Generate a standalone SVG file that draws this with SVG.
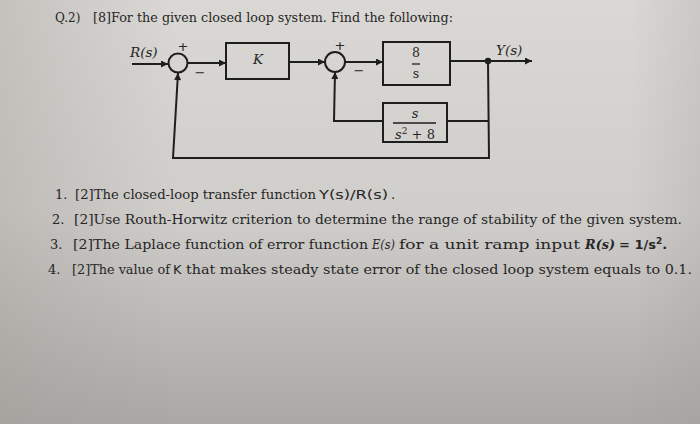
<svg xmlns="http://www.w3.org/2000/svg" width="700" height="424" viewBox="0 0 700 424">
<defs>
<linearGradient id="bg" x1="0" y1="0" x2="0" y2="1">
<stop offset="0" stop-color="#dad8d5"/>
<stop offset="0.5" stop-color="#d0cecb"/>
<stop offset="1" stop-color="#aaa7a5"/>
</linearGradient>
<linearGradient id="side" x1="0" y1="0" x2="1" y2="0">
<stop offset="0" stop-color="#9e9a94" stop-opacity="0.35"/>
<stop offset="0.25" stop-color="#9e9a94" stop-opacity="0"/>
<stop offset="0.9" stop-color="#9e9a94" stop-opacity="0"/>
<stop offset="1" stop-color="#9e9a94" stop-opacity="0.25"/>
</linearGradient>
<marker id="arr" viewBox="0 0 10 10" refX="10" refY="5" markerWidth="9" markerHeight="7" markerUnits="userSpaceOnUse" orient="auto">
<path d="M0,0 L10,5 L0,10 Z" fill="#1e1e1e"/>
</marker>
</defs>
<style>
.ln{fill:none;stroke:#1e1e1e;stroke-width:2}
.bx{fill:none;stroke:#1e1e1e;stroke-width:2}
.t{font-family:"DejaVu Serif","Liberation Serif",serif;fill:#262626}
.it{font-style:italic}
.sans{font-family:"DejaVu Sans","Liberation Sans",sans-serif}
.q{font-size:12px}
.s{font-size:13px}
.sg{font-family:"DejaVu Sans",sans-serif;font-size:13px;fill:#262626}
</style>
<rect x="0" y="0" width="700" height="424" fill="url(#bg)"/>
<rect x="0" y="0" width="700" height="424" fill="url(#side)"/>

<g id="title">
<text class="t q" x="55" y="22">Q.2)</text>
<text class="t q" x="93" y="22" textLength="360" lengthAdjust="spacingAndGlyphs">[8]For the given closed loop system. Find the following:</text>
</g>

<g id="connectors">
<path class="ln" d="M132,64 L168,64" marker-end="url(#arr)"/>
<path class="ln" d="M188,63 L226,63" marker-end="url(#arr)"/>
<path class="ln" d="M289,62 L325,62" marker-end="url(#arr)"/>
<path class="ln" d="M345,62 L383,62" marker-end="url(#arr)"/>
<path class="ln" d="M450,61 L532,61" marker-end="url(#arr)"/>
<path class="ln" d="M488,61 L489,158 L173,158 L178,73" marker-end="url(#arr)"/>
<path class="ln" d="M488,121 L447,121"/>
<path class="ln" d="M383,121 L334,121 L335,72" marker-end="url(#arr)"/>
<circle cx="488" cy="61" r="3.2" fill="#1e1e1e"/>
</g>

<g id="sum1">
<circle class="bx" cx="178" cy="63" r="9.5"/>
<text class="sg" x="183" y="51" text-anchor="middle">+</text>
<text class="sg" x="200" y="77" text-anchor="middle">−</text>
</g>
<g id="input">
<text class="t it" x="130" y="57" font-size="13.5">R(s)</text>
</g>
<g id="gainK">
<rect class="bx" x="226" y="43" width="63" height="36"/>
<text class="t it" x="258" y="64" font-size="13.5" text-anchor="middle">K</text>
</g>
<g id="sum2">
<circle class="bx" cx="335" cy="62" r="10"/>
<text class="sg" x="340" y="50" text-anchor="middle">+</text>
<text class="sg" x="359" y="75" text-anchor="middle">−</text>
</g>
<g id="plant">
<rect class="bx" x="383" y="42" width="67" height="43"/>
<text class="t" x="416" y="57" font-size="12.5" text-anchor="middle">8</text>
<line x1="412" y1="64" x2="420" y2="64" stroke="#1e1e1e" stroke-width="1.3"/>
<text class="t" x="416" y="78" font-size="12.5" text-anchor="middle">s</text>
</g>
<g id="feedback">
<rect class="bx" x="383" y="103" width="64" height="39"/>
<text class="t it" x="415" y="118" font-size="13" text-anchor="middle">s</text>
<line x1="393" y1="123" x2="436" y2="123" stroke="#1e1e1e" stroke-width="1.3"/>
<text class="t" x="415" y="139" font-size="13" text-anchor="middle"><tspan font-style="italic">s</tspan><tspan font-size="9" dy="-5">2</tspan><tspan dy="5"> + 8</tspan></text>
</g>
<g id="output">
<text class="t it" x="496" y="55" font-size="13.5">Y(s)</text>
</g>

<g id="list">
<text class="t s" x="55" y="199">1.</text>
<text class="t s" x="75" y="199" textLength="241" lengthAdjust="spacingAndGlyphs">[2]The closed-loop transfer function</text>
<text class="t s sans" x="319" y="199" textLength="69" lengthAdjust="spacingAndGlyphs">Y(s)/R(s)</text>
<text class="t s" x="391" y="199">.</text>

<text class="t s" x="52" y="224">2.</text>
<text class="t s" x="74" y="224" textLength="608" lengthAdjust="spacingAndGlyphs">[2]Use Routh-Horwitz criterion to determine the range of stability of the given system.</text>

<text class="t s" x="50" y="249">3.</text>
<text class="t s" x="73" y="249" textLength="295" lengthAdjust="spacingAndGlyphs">[2]The Laplace function of error function</text>
<text class="t s it" x="372" y="249" textLength="23" lengthAdjust="spacingAndGlyphs">E(s)</text>
<text class="t" x="399" y="249" font-size="13" textLength="181" lengthAdjust="spacingAndGlyphs">for a unit ramp input</text>
<text class="t s it" x="585" y="249" font-weight="bold" textLength="30" lengthAdjust="spacingAndGlyphs">R(s)</text>
<text class="t s sans" x="619" y="249" font-weight="bold">= 1/s<tspan font-size="9" dy="-5">2</tspan><tspan dy="5">.</tspan></text>

<text class="t s" x="48" y="274">4.</text>
<text class="t s" x="72" y="274" textLength="98" lengthAdjust="spacingAndGlyphs">[2]The value of</text>
<text class="t s sans" x="173" y="274">K</text>
<text class="t s" x="186" y="274" textLength="506" lengthAdjust="spacingAndGlyphs">that makes steady state error of the closed loop system equals to 0.1.</text>
</g>
</svg>
